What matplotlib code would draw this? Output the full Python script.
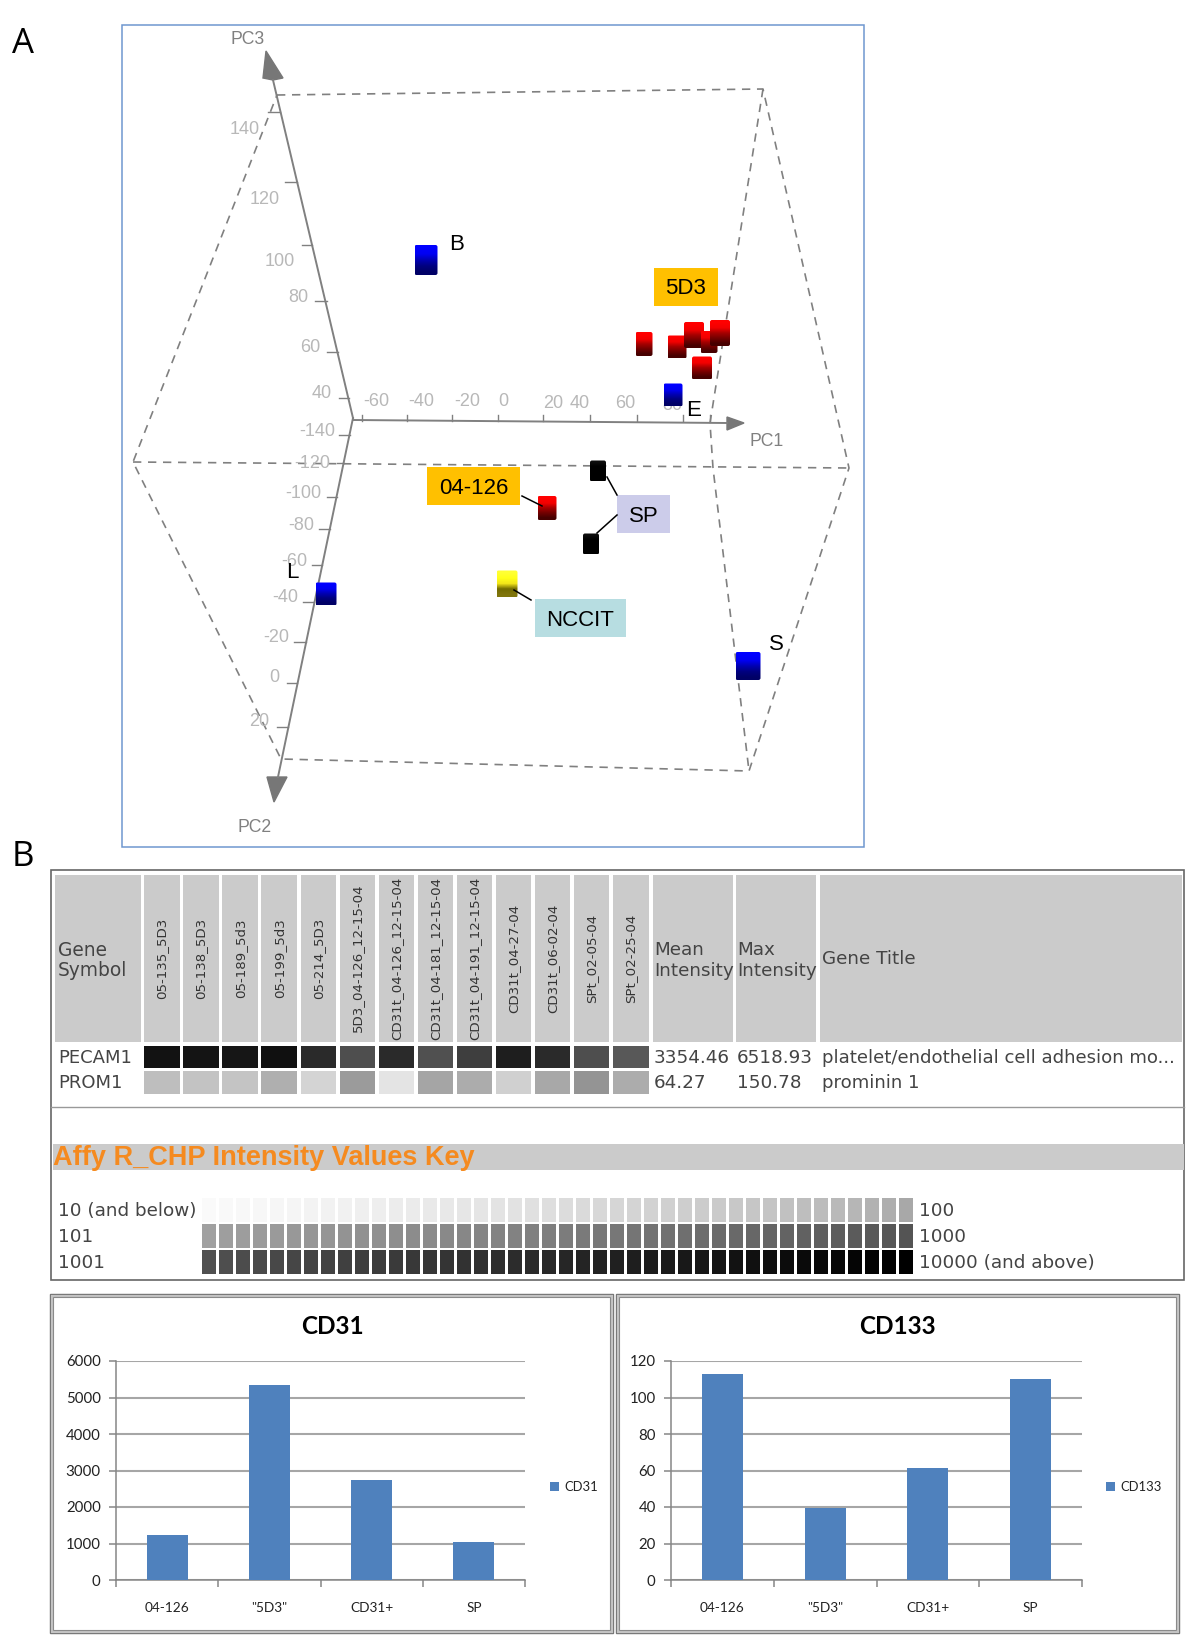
import numpy as np
import matplotlib
matplotlib.use('Agg')
import matplotlib.pyplot as plt
from matplotlib.patches import Rectangle, FancyBboxPatch

W, H = 1200, 1645

# panel A, positions in pixels
box_outline_x = [277, 763, 849, 749, 281, 133, 277]
box_outline_y = [95, 89, 468, 771, 759, 462, 95]
box_mid_x = [133, 849]
box_mid_y = [462, 468]
box_front_x = [763, 710, 713, 749]
box_front_y = [89, 423, 468, 771]

pc3_labels = ['140', '120', '100', '80', '60', '40']
pc3_label_x = [245, 265, 280, 298, 310, 322]
pc3_label_y = [130, 199, 261, 297, 347, 393]
pc3_tick_x0 = [268, 285, 302, 315, 327, 339]
pc3_tick_x1 = [280, 297, 312, 327, 338, 349]
pc3_tick_y = [112, 182, 245, 301, 352, 398]

pc2_labels = ['-140', '-120', '-100', '-80', '-60', '-40', '-20', '0', '20']
pc2_label_x = [317, 312, 303, 301, 294, 285, 276, 274, 259]
pc2_label_y = [432, 463, 493, 525, 561, 598, 638, 678, 721]
pc2_tick_x0 = [339, 337, 327, 319, 312, 303, 294, 287, 277]
pc2_tick_x1 = [350, 344, 337, 330, 322, 314, 306, 297, 288]
pc2_tick_y = [435, 463, 497, 529, 565, 602, 642, 683, 727]

pc1_labels = ['-60', '-40', '-20', '0', '20', '40', '60', '80']
pc1_label_x = [376, 421, 467, 503, 553, 580, 625, 672]
pc1_label_y = [402, 402, 402, 402, 404, 404, 404, 406]
pc1_tick_x = [362, 407, 452, 498, 543, 590, 637, 683, 710]

cube_x = [426, 644, 677, 694, 709, 720, 702, 673, 326, 748, 547, 598, 591, 507]
cube_y = [260, 344, 347, 335, 342, 333, 368, 395, 594, 666, 508, 471, 544, 584]
cube_w = [23, 17, 19, 20, 17, 20, 20, 19, 21, 25, 19, 16, 16, 21]
cube_h = [30, 24, 23, 26, 22, 26, 23, 23, 23, 28, 24, 21, 21, 27]
cube_kind = ['blue', 'red', 'red', 'red', 'red', 'red', 'red', 'blue', 'blue',
             'blue', 'red', 'black', 'black', 'yellow']

# panel B table
sample_names = ['05-135_5D3', '05-138_5D3', '05-189_5d3', '05-199_5d3', '05-214_5D3',
                '5D3_04-126_12-15-04', 'CD31t_04-126_12-15-04', 'CD31t_04-181_12-15-04',
                'CD31t_04-191_12-15-04', 'CD31t_04-27-04', 'CD31t_06-02-04',
                'SPt_02-05-04', 'SPt_02-25-04']
pecam1_grey = [18, 20, 22, 16, 42, 78, 42, 80, 62, 30, 42, 78, 88]
prom1_grey = [190, 195, 196, 175, 212, 155, 228, 165, 172, 208, 168, 148, 172]
key_row1 = [250, 249, 248, 247, 246, 245, 243, 242, 241, 239, 238, 236, 235, 233,
            232, 230, 229, 227, 226, 224, 222, 220, 218, 216, 214, 212, 210, 208,
            206, 204, 202, 200, 198, 196, 193, 190, 188, 185, 182, 178, 174, 168]
key_row2 = [160, 158, 157, 155, 154, 152, 150, 149, 147, 145, 144, 142, 140, 139,
            137, 135, 133, 131, 130, 128, 126, 124, 122, 120, 119, 117, 115, 113,
            111, 109, 107, 105, 103, 101, 99, 97, 95, 93, 91, 89, 87, 84]
key_row3 = [80, 78, 76, 74, 72, 70, 68, 66, 64, 62, 60, 58, 56, 54,
            52, 50, 48, 46, 44, 42, 40, 38, 36, 34, 32, 30, 28, 26,
            24, 22, 20, 18, 16, 14, 12, 10, 8, 7, 5, 3, 1, 0]

# bar charts
groups = ['04-126', '"5D3"', 'CD31+', 'SP']
cd31_values = [1233, 5342, 2730, 1032]
cd133_values = [112.7, 39.3, 61.2, 110]

fig = plt.figure(figsize=(W / 100, H / 100), dpi=100, facecolor='white')
bg = fig.add_axes([0, 0, 1, 1])
bg.axis('off')

SANS = 'Liberation Sans'
LINE = '#808080'
TICK_TXT = '#b8b8b8'


def cube_colors(kind):
    if kind == 'blue':
        return [(0, 0, 1), (0, 0, .95), (0, 0, .7), (0, 0, .5), (0, 0, .4)]
    if kind == 'red':
        return [(1, 0, 0), (.95, 0, 0), (.65, 0, 0), (.45, 0, 0), (.28, 0, 0)]
    if kind == 'yellow':
        return [(1, 1, .2), (1, 1, .1), (.95, .9, .1), (.45, .42, 0), (.5, .46, .05)]
    return [(.05, .05, .05), (0, 0, 0), (0, 0, 0), (0, 0, 0), (0, 0, 0)]


bg.add_patch(Rectangle((122, 25), 742, 822, fill=False, ec='#6f97cf', lw=1.1))
bg.plot(box_outline_x, box_outline_y, color=LINE, lw=1.2, ls=(0, (5, 4)))
bg.plot(box_mid_x, box_mid_y, color=LINE, lw=1.2, ls=(0, (5, 4)))
bg.plot(box_front_x, box_front_y, color=LINE, lw=1.2, ls=(0, (5, 4)))

# axes and arrows
bg.plot([353, 273], [418, 80], color=LINE, lw=1.4)
bg.plot([353, 278], [418, 777], color=LINE, lw=1.4)
bg.plot([353, 727], [420, 423], color=LINE, lw=1.4)
bg.fill([266, 283, 273, 263], [51, 78, 80, 78], color='#777777')
bg.fill([267, 287, 274], [777, 777, 802], color='#777777')
bg.fill([727, 744, 727], [417, 423, 430], color='#777777')
bg.text(248, 40, 'PC3', family=SANS, fontsize=12.7, color=LINE, ha='center', va='center')
bg.text(255, 827, 'PC2', family=SANS, fontsize=12.7, color=LINE, ha='center', va='center')
bg.text(767, 442, 'PC1', family=SANS, fontsize=12.7, color=LINE, ha='center', va='center')

for lab, x, y in zip(pc3_labels, pc3_label_x, pc3_label_y):
    bg.text(x, y, lab, family=SANS, fontsize=13, color=TICK_TXT, ha='center', va='center')
for x0, x1, y in zip(pc3_tick_x0, pc3_tick_x1, pc3_tick_y):
    bg.plot([x0, x1], [y, y], color=LINE, lw=1)
for lab, x, y in zip(pc2_labels, pc2_label_x, pc2_label_y):
    bg.text(x, y, lab, family=SANS, fontsize=13, color=TICK_TXT, ha='center', va='center')
for x0, x1, y in zip(pc2_tick_x0, pc2_tick_x1, pc2_tick_y):
    bg.plot([x0, x1], [y, y], color=LINE, lw=1)
for lab, x, y in zip(pc1_labels, pc1_label_x, pc1_label_y):
    bg.text(x, y, lab, family=SANS, fontsize=13, color=TICK_TXT, ha='center', va='center')
for x in pc1_tick_x:
    bg.plot([x, x], [415, 421], color=LINE, lw=1)

for x, y, w, h, kind in zip(cube_x, cube_y, cube_w, cube_h, cube_kind):
    rows = np.array(cube_colors(kind))[:, None, :]
    im = bg.imshow(rows, extent=(x - w / 2, x + w / 2, y + h / 2, y - h / 2), aspect='auto',
                   interpolation='bilinear', zorder=5)
    clip = FancyBboxPatch((x - w / 2 + 2, y - h / 2 + 2), w - 4, h - 4,
                          boxstyle='round,pad=2', transform=bg.transData, fc='none', ec='none')
    bg.add_patch(clip)
    im.set_clip_path(clip)

# callouts
for x, y, w, h, c, txt in [(654, 268, 64, 38, '#ffc000', '5D3'),
                           (427, 467, 93, 38, '#ffc000', '04-126'),
                           (617, 495, 53, 38, '#ccccea', 'SP'),
                           (535, 599, 91, 38, '#b7dde1', 'NCCIT')]:
    bg.add_patch(Rectangle((x, y), w, h, fc=c, ec='none', zorder=6))
    bg.text(x + w / 2, y + h / 2 + 2, txt, family=SANS, fontsize=16, color='black',
            ha='center', va='center', zorder=7)
for x0, y0, x1, y1 in [(522, 496, 542, 506), (607, 477, 617, 495),
                       (617, 515, 597, 533), (514, 590, 531, 600)]:
    bg.plot([x0, x1], [y0, y1], color='black', lw=1.1, zorder=7)
for txt, x, y in [('B', 457, 245), ('E', 694, 411), ('L', 292, 572), ('S', 776, 644)]:
    bg.text(x, y, txt, family=SANS, fontsize=16, color='black', ha='center', va='center', zorder=7)

bg.text(23, 44, 'A', family='Open Sans', fontsize=25, color='black', ha='center', va='center')
bg.text(23, 857, 'B', family='Open Sans', fontsize=25, color='black', ha='center', va='center')

# table
TXT = '#444444'
HDR = '#cbcbcb'
TAB = 'DejaVu Sans'
bg.add_patch(Rectangle((51, 870), 1133, 410, fill=False, ec='#666666', lw=1.2))
bg.add_patch(Rectangle((55, 875), 86, 167, fc=HDR, ec='none'))
bg.text(58, 950, 'Gene', family=TAB, fontsize=13.4, color=TXT, va='center')
bg.text(58, 970, 'Symbol', family=TAB, fontsize=13.4, color=TXT, va='center')
for i, name in enumerate(sample_names):
    cx = 144.3 + i * 39.05
    bg.add_patch(Rectangle((cx, 875), 35.6, 167, fc=HDR, ec='none'))
    bg.text(cx + 17.8, 958, name, family=TAB, fontsize=9.6, color='#333333', rotation=90,
            ha='center', va='center')
    g = pecam1_grey[i] / 255
    bg.add_patch(Rectangle((cx, 1046), 35.6, 22, fc=(g, g, g), ec='none'))
    g = prom1_grey[i] / 255
    bg.add_patch(Rectangle((cx, 1071), 35.6, 23, fc=(g, g, g), ec='none'))
for x, w in [(652.6, 80.4), (736, 80), (820, 362)]:
    bg.add_patch(Rectangle((x, 875), w, 167, fc=HDR, ec='none'))
bg.text(654, 950, 'Mean', family=TAB, fontsize=13.2, color=TXT, va='center')
bg.text(654, 971, 'Intensity', family=TAB, fontsize=13.2, color=TXT, va='center')
bg.text(737, 950, 'Max', family=TAB, fontsize=13.2, color=TXT, va='center')
bg.text(737, 971, 'Intensity', family=TAB, fontsize=13.2, color=TXT, va='center')
bg.text(822, 959, 'Gene Title', family=TAB, fontsize=13.2, color=TXT, va='center')
bg.text(58, 1058, 'PECAM1', family=TAB, fontsize=13, color=TXT, va='center')
bg.text(58, 1083, 'PROM1', family=TAB, fontsize=13, color=TXT, va='center')
bg.text(654, 1058, '3354.46', family=TAB, fontsize=13.2, color=TXT, va='center')
bg.text(737, 1058, '6518.93', family=TAB, fontsize=13.2, color=TXT, va='center')
bg.text(822, 1058, 'platelet/endothelial cell adhesion mo...', family=TAB, fontsize=13.1, color=TXT, va='center')
bg.text(654, 1083, '64.27', family=TAB, fontsize=13.2, color=TXT, va='center')
bg.text(737, 1083, '150.78', family=TAB, fontsize=13.2, color=TXT, va='center')
bg.text(822, 1083, 'prominin 1', family=TAB, fontsize=13.1, color=TXT, va='center')

bg.plot([51, 1184], [1107, 1107], color='#999999', lw=1)
bg.add_patch(Rectangle((53, 1144), 1131, 26, fc=HDR, ec='none'))
bg.text(53, 1158, 'Affy R_CHP Intensity Values Key', family=SANS, fontweight='bold',
        fontsize=19.5, color='#f58a1f', va='center')

for row_y, row in zip([1198, 1224, 1250], [key_row1, key_row2, key_row3]):
    for i, v in enumerate(row):
        g = v / 255
        bg.add_patch(Rectangle((202 + i * 16.99, row_y), 14.2, 23.5, fc=(g, g, g), ec='none'))
for txt, y in [('10 (and below)', 1211), ('101', 1237), ('1001', 1263)]:
    bg.text(58, y, txt, family=TAB, fontsize=13.2, color=TXT, va='center')
for txt, y in [('100', 1211), ('1000', 1237), ('10000 (and above)', 1263)]:
    bg.text(919, y, txt, family=TAB, fontsize=13.2, color=TXT, va='center')

# frames of the two charts
for x0, x1 in [(50, 613), (616, 1179)]:
    bg.add_patch(Rectangle((x0, 1294), x1 - x0, 339, fill=False, ec='#707070', lw=1))
    bg.add_patch(Rectangle((x0 + 1.5, 1295.5), x1 - x0 - 3, 336, fill=False, ec='#c4c4c4', lw=1.6))
    bg.add_patch(Rectangle((x0 + 3, 1297), x1 - x0 - 6, 333, fill=False, ec='#8a8a8a', lw=.8))

bg.set_xlim(0, W)
bg.set_ylim(H, 0)


def bar_chart(left, right, values, ymax, step, title, title_x, leg_x):
    ax = fig.add_axes([left / W, 1 - 1580 / H, (right - left) / W, 219 / H], facecolor='none')
    x = np.arange(len(groups)) + 0.5
    ax.bar(x, values, width=0.4, color='#4f81bd', label=title, zorder=3)
    ax.set_xlim(0, len(groups))
    ax.set_ylim(0, ymax)
    ax.set_yticks(np.arange(0, ymax + 1, step))
    ax.set_xticks(np.arange(len(groups) + 1))
    ax.set_xticklabels([])
    ax.set_xticks(x, minor=True)
    ax.set_xticklabels(groups, minor=True, family='Lato', fontsize=9.8, color='#222222')
    ax.tick_params(axis='x', which='minor', length=0, pad=16)
    ax.tick_params(axis='x', which='major', length=5, width=1.1, color='#868686')
    ax.tick_params(axis='y', length=5, width=1.1, color='#868686', pad=6)
    for lab in ax.get_yticklabels():
        lab.set_family('Lato')
        lab.set_fontsize(10.8)
        lab.set_color('#222222')
    ax.grid(axis='y', color='#a6a6a6', lw=1.5, zorder=0)
    ax.set_axisbelow(True)
    ax.spines['top'].set_visible(False)
    ax.spines['right'].set_visible(False)
    for s in ['left', 'bottom']:
        ax.spines[s].set_color('#868686')
        ax.spines[s].set_linewidth(1.1)
    ax.legend(loc='center left', bbox_to_anchor=(leg_x, 0.425), frameon=False, borderpad=0,
              borderaxespad=0, handlelength=0.7, handleheight=0.7, handletextpad=0.35,
              prop={'family': 'Lato', 'size': 9.4}, labelcolor='#222222')
    bg.text(title_x, 1326, title, family='Lato', fontweight='bold', fontsize=17.5,
            color='black', ha='center', va='center')


bar_chart(116, 525, cd31_values, 6000, 1000, 'CD31', 332, 1.062)
bar_chart(671, 1082, cd133_values, 120, 20, 'CD133', 897, 1.059)

fig.savefig('out.png', dpi=100)
